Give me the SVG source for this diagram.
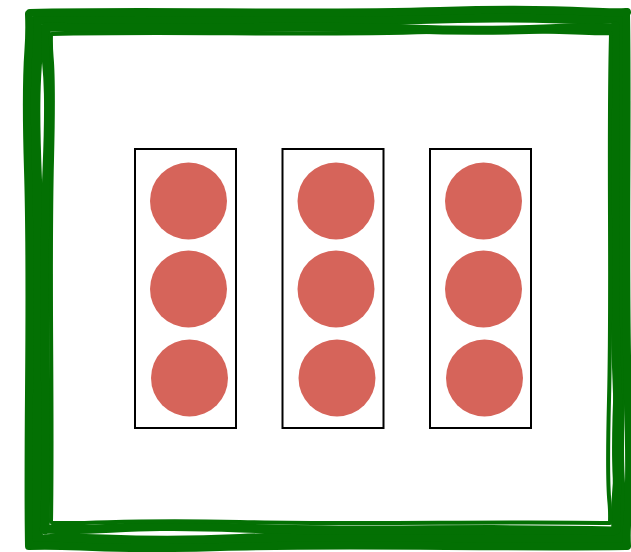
<svg xmlns="http://www.w3.org/2000/svg" width="631" height="552" viewBox="0 0 631 552">
<style>
.frame{fill:none;stroke:#037003;stroke-linecap:round;stroke-linejoin:round}
.box{fill:#ffffff;stroke:#000000;stroke-width:2}
.dot{fill:#d6645a}
</style>
<rect width="631" height="552" fill="#ffffff"/>
<g id="frame">
<path class="frame" stroke-width="12" d="M40,19 C150,15 300,23 420,18 S580,21 622,17 M623,20 C619,120 626,260 620,380 S624,500 621,540 M618,538 C500,542 360,534 240,540 S90,536 36,541 M37,540 C34,420 41,300 36,180 S39,60 38,20"/>
<path class="frame" stroke-width="9" d="M46,27 C170,31 290,24 410,29 S560,25 614,28 M615,26 C617,140 612,260 617,380 S613,490 616,530 M613,531 C480,527 360,533 240,528 S110,532 44,529 M45,530 C48,410 42,290 47,170 S43,70 46,28"/>
<path class="frame" stroke-width="8" d="M30,13 C160,10 300,15 440,11 S590,14 627,12 M626,12 C628,130 624,270 628,400 S625,510 627,546 M626,546 C490,548 350,543 220,547 S80,544 29,546 M29,546 C27,430 32,300 28,170 S31,60 29,14"/>
<path class="frame" stroke-width="4" d="M52,34 C180,31 300,36 430,32 S580,35 611,33 M611,34 C608,150 612,280 609,400 S611,490 610,522 M610,523 C490,521 360,525 240,522 S110,524 52,523 M51,522 C53,400 49,280 52,160 S50,70 51,34"/>
</g>
<g id="box1"><rect class="box" x="135" y="149" width="101" height="279"/>
<circle class="dot" cx="188.5" cy="201" r="38.5"/><circle class="dot" cx="188.5" cy="289" r="38.5"/><circle class="dot" cx="189.5" cy="378" r="38.5"/></g>
<g id="box2"><rect class="box" x="282.5" y="149" width="101" height="279"/>
<circle class="dot" cx="336" cy="201" r="38.5"/><circle class="dot" cx="336" cy="289" r="38.5"/><circle class="dot" cx="337" cy="378" r="38.5"/></g>
<g id="box3"><rect class="box" x="430" y="149" width="101" height="279"/>
<circle class="dot" cx="483.5" cy="201" r="38.5"/><circle class="dot" cx="483.5" cy="289" r="38.5"/><circle class="dot" cx="484.5" cy="378" r="38.5"/></g>
<g id="connectors"/>
</svg>
